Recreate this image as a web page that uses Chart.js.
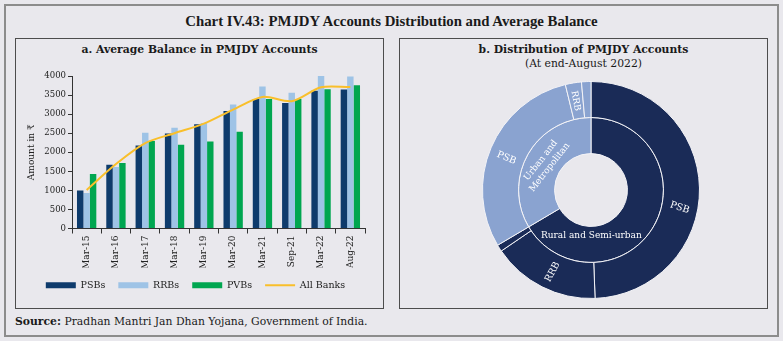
<!DOCTYPE html>
<html>
<head>
<meta charset="utf-8">
<script src="https://cdn.jsdelivr.net/npm/chart.js@4.4.1/dist/chart.umd.min.js"></script>
<style>
  html, body { margin: 0; padding: 0; }
  body { width: 783px; height: 341px; background: #e9e8ed; position: relative; overflow: hidden; font-family: "DejaVu Serif", serif; color: #222; }
  .frame { position: absolute; left: 4px; top: 4px; width: 775px; height: 333px; box-sizing: border-box; border: 2px solid #8c8c8c; }
  .panel { position: absolute; top: 38px; width: 369px; height: 271px; box-sizing: border-box; border: 1px solid #4d4d4d; }
  .title { position: absolute; left: 0; width: 783px; top: 13px; text-align: center; font-family: "Liberation Serif", serif; font-weight: bold; font-size: 14.8px; color: #1a1a1a; }
  .ptitle { position: absolute; text-align: center; font-weight: bold; font-size: 10.8px; color: #1a1a1a; white-space: nowrap; }
  .psub { position: absolute; text-align: center; font-size: 10.8px; color: #1a1a1a; white-space: nowrap; }
  .source { position: absolute; left: 15px; top: 315px; font-size: 10.8px; color: #1a1a1a; white-space: nowrap; }
  canvas { position: absolute; }
</style>
</head>
<body>
<div class="frame"></div>
<div class="title">Chart IV.43: PMJDY Accounts Distribution and Average Balance</div>
<div class="panel" style="left:15px;"></div>
<div class="panel" style="left:399px;"></div>
<div class="ptitle" style="left:15px; width:369px; top:43px;">a. Average Balance in PMJDY Accounts</div>
<div class="ptitle" style="left:399px; width:369px; top:43px;">b. Distribution of PMJDY Accounts</div>
<div class="psub" style="left:399px; width:369px; top:57px;">(At end-August 2022)</div>
<div class="source"><b>Source:</b> Pradhan Mantri Jan Dhan Yojana, Government of India.</div>
<canvas id="bars" width="366" height="250" style="left:16px; top:56px; width:366px; height:250px;"></canvas>
<canvas id="donut" width="218" height="218" style="left:482px; top:81px; width:218px; height:218px;"></canvas>
<script>
// ---------- Data: panel a ----------
const categories = ['Mar-15','Mar-16','Mar-17','Mar-18','Mar-19','Mar-20','Mar-21','Sep-21','Mar-22','Aug-22'];
const psbs     = [1000, 1670, 2180, 2490, 2735, 3080, 3395, 3290, 3610, 3645];
const rrbs     = [ 930, 1610, 2510, 2640, 2770, 3250, 3725, 3560, 4030, 3985];
const pvbs     = [1430, 1715, 2295, 2200, 2280, 2540, 3400, 3400, 3655, 3760];
const allBanks = [1010, 1690, 2240, 2500, 2750, 3120, 3450, 3340, 3705, 3710];
const yTicks   = [0, 500, 1000, 1500, 2000, 2500, 3000, 3500, 4000];

// ---------- Data: panel b ----------
const outerNames  = ['PSB', 'RRB', '', 'PSB', 'RRB', ''];
const outerShares = [49.4, 16.1, 1.0, 29.7, 2.4, 1.4];
const innerNames  = ['Rural and Semi-urban', 'Urban and\nMetropolitan'];
const innerShares = [66.5, 33.5];

const NAVY = '#1a2b57', LIGHT = '#8aa3d0';
const serif = '"DejaVu Serif", serif';

Chart.defaults.font.family = serif;
Chart.defaults.color = '#222';

new Chart(document.getElementById('bars'), {
  type: 'bar',
  data: {
    labels: categories,
    datasets: [
      { label: 'PSBs', data: psbs, backgroundColor: '#0e3b6c', order: 1 },
      { label: 'RRBs', data: rrbs, backgroundColor: '#9ec3e6', order: 1 },
      { label: 'PVBs', data: pvbs, backgroundColor: '#00a650', order: 1 },
      { type: 'line', label: 'All Banks', data: allBanks, borderColor: '#f9bf2b', backgroundColor: '#f9bf2b',
        borderWidth: 2, pointRadius: 0, tension: 0.3, order: 0 }
    ]
  },
  options: {
    responsive: false, animation: false, devicePixelRatio: 1,
    datasets: { bar: { categoryPercentage: 0.66, barPercentage: 1.0 } },
    layout: { padding: { left: 10, right: 17, top: 20, bottom: 6 } },
    scales: {
      x: {
        offset: true,
        grid: { offset: true, drawOnChartArea: false, tickLength: 5, color: '#333' },
        border: { color: '#333', width: 1 },
        ticks: { maxRotation: 90, minRotation: 90, padding: 2, font: { size: 9 }, color: '#222' },
        afterFit(s) { s.height = 39; }
      },
      y: {
        min: 0, max: 4000,
        afterBuildTicks(s) { s.ticks = yTicks.map(v => ({ value: v })); },
        grid: { drawOnChartArea: false, tickLength: 4, color: '#333' },
        border: { color: '#333', width: 1 },
        ticks: { padding: 2, font: { size: 8.5 }, color: '#222', callback: v => String(v) },
        title: { display: true, text: 'Amount in ₹', font: { size: 9 }, color: '#222', padding: 0 },
        afterFit(s) { s.width = 46; }
      }
    },
    plugins: {
      tooltip: { enabled: false },
      legend: {
        position: 'bottom',
        labels: {
          usePointStyle: true, pointStyleWidth: 30, boxHeight: 6, padding: 13,
          font: { size: 9.5 }, color: '#222',
          sort: (a, b) => a.datasetIndex - b.datasetIndex,
          generateLabels(chart) {
            const items = Chart.defaults.plugins.legend.labels.generateLabels(chart);
            items.forEach(it => {
              const ds = chart.data.datasets[it.datasetIndex];
              if (ds.type === 'line') { it.pointStyle = 'line'; it.strokeStyle = ds.borderColor; it.lineWidth = 2; }
              else { it.pointStyle = 'rect'; it.lineWidth = 0; it.strokeStyle = 'rgba(0,0,0,0)'; }
            });
            return items;
          }
        }
      }
    }
  }
});

const donutLabels = {
  id: 'donutLabels',
  afterDatasetsDraw(chart, args, opts) {
    const ctx = chart.ctx;
    opts.items.forEach(it => {
      const arc = chart.getDatasetMeta(it.ds).data[it.idx];
      const p = arc.getProps(['x', 'y', 'startAngle', 'endAngle', 'innerRadius', 'outerRadius'], true);
      const a = p.startAngle + (p.endAngle - p.startAngle) * it.at;
      const r = p.innerRadius + (p.outerRadius - p.innerRadius) * it.rf;
      const text = (it.ds === 0 ? outerNames : innerNames)[it.idx];
      const lines = text.split('\n');
      ctx.save();
      ctx.translate(p.x + r * Math.cos(a), p.y + r * Math.sin(a));
      ctx.rotate(it.rot * Math.PI / 180);
      ctx.fillStyle = '#ffffff';
      ctx.font = (it.size || 9) + 'px ' + serif;
      ctx.textAlign = 'center';
      ctx.textBaseline = 'middle';
      const lh = (it.size || 9) * 1.25;
      lines.forEach((ln, i) => ctx.fillText(ln, 0, (i - (lines.length - 1) / 2) * lh));
      ctx.restore();
    });
  }
};

new Chart(document.getElementById('donut'), {
  type: 'doughnut',
  data: {
    labels: outerNames,
    datasets: [
      { data: outerShares, backgroundColor: [NAVY, NAVY, NAVY, LIGHT, LIGHT, LIGHT], borderColor: '#f2f2f6', borderWidth: 1 },
      { data: innerShares, backgroundColor: [NAVY, LIGHT], borderColor: '#f2f2f6', borderWidth: 1 }
    ]
  },
  options: {
    responsive: false, animation: false, devicePixelRatio: 1,
    cutout: '33.6%',
    layout: { padding: 0 },
    plugins: {
      legend: { display: false }, tooltip: { enabled: false },
      donutLabels: {
        items: [
          { ds: 0, idx: 0, at: 0.57, rf: 0.5, rot: 18, size: 9.5 },
          { ds: 0, idx: 1, at: 0.47, rf: 0.5, rot: -62, size: 9.5 },
          { ds: 0, idx: 3, at: 0.48, rf: 0.5, rot: 22, size: 9.5 },
          { ds: 0, idx: 4, at: 0.45, rf: 0.5, rot: 80, size: 9 },
          { ds: 1, idx: 0, at: 0.75, rf: 0.25, rot: 0, size: 9 },
          { ds: 1, idx: 1, at: 0.5, rf: 0.45, rot: -52, size: 9 }
        ]
      }
    }
  },
  plugins: [donutLabels]
});
</script>
</body>
</html>
